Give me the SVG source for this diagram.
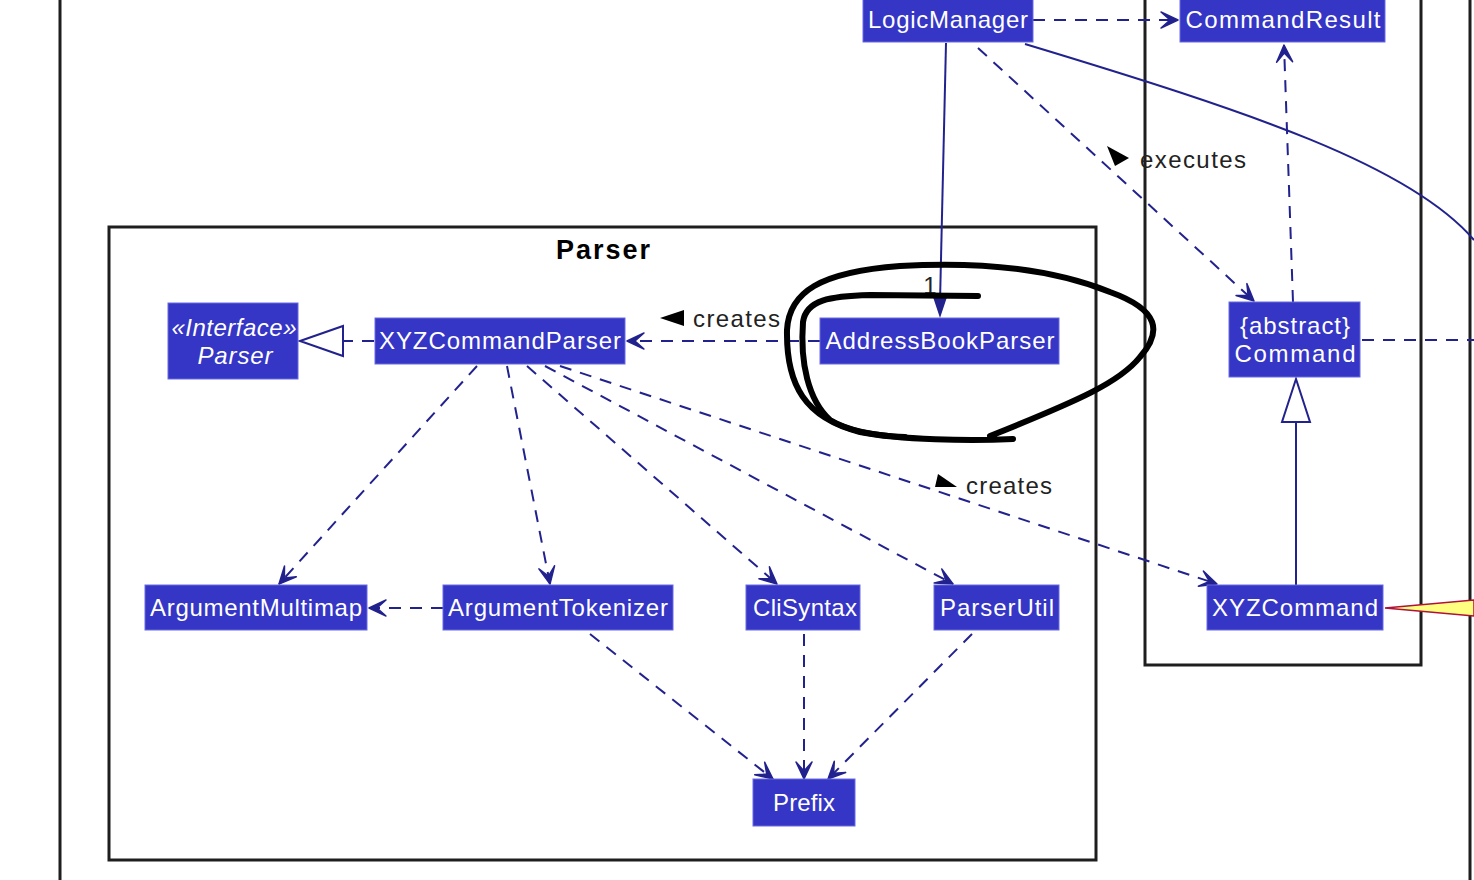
<svg xmlns="http://www.w3.org/2000/svg" width="1474" height="880" viewBox="0 0 1474 880">
<defs>
<style>
.node rect{fill:#3535C6;stroke:#6a6ae0;stroke-width:1}
.node text{fill:#ffffff;font-family:"Liberation Sans",Arial,sans-serif;font-size:24px;text-anchor:middle}
.frame{fill:none;stroke:#1e1e1e;stroke-width:3}
.dep{fill:none;stroke:#22228E;stroke-width:2;stroke-dasharray:12 9}
.sol{fill:none;stroke:#22228E;stroke-width:2}
.lbl{fill:#222;font-family:"Liberation Sans",Arial,sans-serif;font-size:24px}
.ink{fill:none;stroke:#000;stroke-width:6;stroke-linecap:round;stroke-linejoin:round}
</style>
<marker id="arr" viewBox="-20 -11 22 22" markerWidth="22" markerHeight="22" refX="0" refY="0" orient="auto" markerUnits="userSpaceOnUse">
<path d="M0,0 L-17,-8 L-8,0 L-17,8 Z" fill="#22228E" stroke="#22228E" stroke-width="1.5" stroke-linejoin="round"/>
</marker>
</defs>
<rect width="1474" height="880" fill="#ffffff"/>

<g id="frames">
<line class="frame" x1="60" y1="0" x2="60" y2="880"/>
<line class="frame" x1="1470" y1="0" x2="1470" y2="880"/>
<polyline class="frame" points="1145,0 1145,665 1421,665 1421,0"/>
<rect class="frame" x="109" y="227" width="987" height="633"/>
<text x="603" y="259" text-anchor="middle" font-family="Liberation Sans,Arial,sans-serif" font-weight="bold" font-size="27" fill="#000" textLength="94">Parser</text>
</g>

<g id="connectors">
<path class="dep" d="M1033,20 L1178,20" marker-end="url(#arr)"/>
<path class="sol" d="M946,43 L940,302"/>
<polygon points="940,318 933,297 947,297" fill="#22228E"/>
<path class="dep" d="M978,48 L1254,301" marker-end="url(#arr)"/>
<path class="sol" d="M1025,44 C1250,112 1410,165 1474,240"/>
<path class="dep" d="M1293,302 L1284,45" marker-end="url(#arr)"/>
<path class="dep" d="M1362,340 L1474,340"/>
<path class="sol" d="M1296,585 L1296,422"/>
<polygon points="1296,379 1282,422 1310,422" fill="#ffffff" stroke="#22228E" stroke-width="2"/>
<polygon points="1385,608 1474,600 1474,616" fill="#FFFF80" stroke="#B0103A" stroke-width="1.5"/>
<path class="dep" d="M374,341 L343,341"/>
<polygon points="300,341 343,326 343,356" fill="#ffffff" stroke="#22228E" stroke-width="2"/>
<path class="dep" d="M820,341 L627,341" marker-end="url(#arr)"/>
<path class="dep" d="M477,366 L279,584" marker-end="url(#arr)"/>
<path class="dep" d="M507,366 L550,584" marker-end="url(#arr)"/>
<path class="dep" d="M527,366 L777,584" marker-end="url(#arr)"/>
<path class="dep" d="M545,366 L953,584" marker-end="url(#arr)"/>
<path class="dep" d="M560,366 L1217,584" marker-end="url(#arr)"/>
<path class="dep" d="M443,608 L369,608" marker-end="url(#arr)"/>
<path class="dep" d="M590,634 L773,779" marker-end="url(#arr)"/>
<path class="dep" d="M804,634 L804,779" marker-end="url(#arr)"/>
<path class="dep" d="M972,634 L828,779" marker-end="url(#arr)"/>
</g>

<g id="labels">
<text class="lbl" x="930" y="294" font-size="22" text-anchor="middle">1</text>
<polygon points="1107,146 1129,158 1115,166" fill="#000"/>
<text class="lbl" x="1140" y="168" textLength="106">executes</text>
<polygon points="660,318 684,310 684,326" fill="#000"/>
<text class="lbl" x="693" y="327" textLength="87">creates</text>
<polygon points="938,474 957,487 935,487" fill="#000"/>
<text class="lbl" x="966" y="494" textLength="86">creates</text>
</g>

<g id="LogicManager" class="node"><rect x="863" y="-2" width="170" height="44"/><text x="948" y="28" textLength="160">LogicManager</text></g>
<g id="CommandResult" class="node"><rect x="1180" y="-2" width="205" height="44"/><text x="1283" y="28" textLength="195">CommandResult</text></g>
<g id="ParserInterface" class="node"><rect x="168" y="303" width="130" height="76"/><text x="234" y="336" font-style="italic" textLength="125">«Interface»</text><text x="235" y="364" font-style="italic" textLength="75">Parser</text></g>
<g id="XYZCommandParser" class="node"><rect x="375" y="318" width="250" height="46"/><text x="500" y="349" textLength="242">XYZCommandParser</text></g>
<g id="AddressBookParser" class="node"><rect x="820" y="318" width="239" height="46"/><text x="940" y="349" textLength="229">AddressBookParser</text></g>
<g id="Command" class="node"><rect x="1229" y="302" width="131" height="75"/><text x="1295" y="334" textLength="110">{abstract}</text><text x="1295" y="362" textLength="121">Command</text></g>
<g id="ArgumentMultimap" class="node"><rect x="145" y="585" width="222" height="45"/><text x="256" y="616" textLength="212">ArgumentMultimap</text></g>
<g id="ArgumentTokenizer" class="node"><rect x="443" y="585" width="230" height="45"/><text x="558" y="616" textLength="220">ArgumentTokenizer</text></g>
<g id="CliSyntax" class="node"><rect x="746" y="585" width="114" height="45"/><text x="805" y="616" textLength="104">CliSyntax</text></g>
<g id="ParserUtil" class="node"><rect x="934" y="585" width="125" height="45"/><text x="997" y="616" textLength="114">ParserUtil</text></g>
<g id="XYZCommand" class="node"><rect x="1207" y="585" width="176" height="45"/><text x="1295" y="616" textLength="166">XYZCommand</text></g>
<g id="Prefix" class="node"><rect x="753" y="779" width="102" height="47"/><text x="804" y="811" textLength="62">Prefix</text></g>

<g id="annotation">
<path class="ink" d="M1013,439 C970,441 900,440 860,432 C805,418 786,385 787,330 C789,292 820,272 900,266 C985,261 1055,270 1110,292 C1160,310 1162,332 1140,357 C1120,382 1080,400 990,436"/>
<path class="ink" d="M978,296 L870,295 C830,296 806,300 803,322 C800,362 808,400 830,420 C850,432 880,436 905,437"/>
</g>
</svg>
